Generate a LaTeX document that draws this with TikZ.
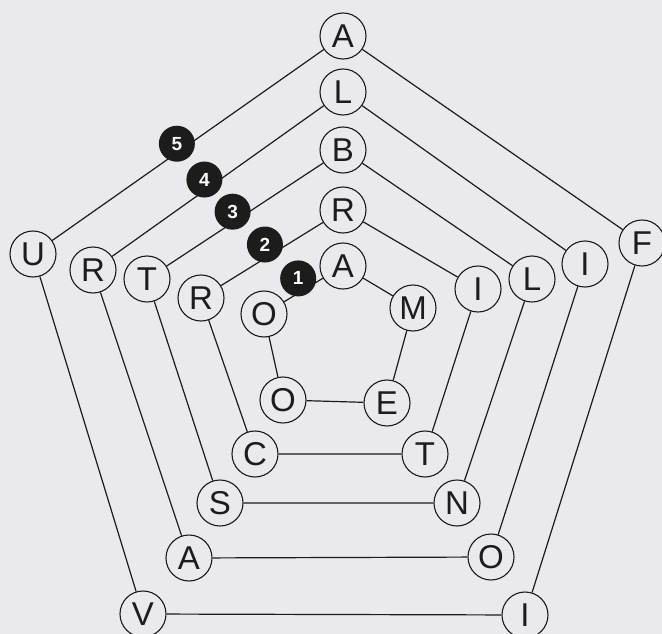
\documentclass[tikz,border=0pt]{standalone}
\usepackage{fontspec}
\setmainfont{Liberation Sans}
\definecolor{bg}{RGB}{233,233,238}
\definecolor{ink}{RGB}{28,28,28}
\tikzset{
  letter/.style={circle, draw=ink, line width=1.1pt, minimum size=46pt, inner sep=0pt,
    fill=bg, text=ink, font=\fontsize{33}{33}\selectfont},
  badge/.style={circle, fill=ink, minimum size=36pt, inner sep=0pt, xshift=-3pt, yshift=5pt,
    text=white, font=\fontsize{19}{19}\selectfont\bfseries},
  ring/.style={draw=ink, line width=1.2pt}
}
\begin{document}
\begin{tikzpicture}[x=1pt, y=-1pt]
  \fill[bg] (0,0) rectangle (662,634);
  \useasboundingbox (0,0) rectangle (662,634);
  % ring 5
  \node[letter] (top5) at (343,36) {A};
  \node[letter] (rt5) at (642,243) {F};
  \node[letter] (rb5) at (525,615) {I};
  \node[letter] (lb5) at (143,614) {V};
  \node[letter] (lt5) at (33,254) {U};
  % ring 4
  \node[letter] (top4) at (343,92) {L};
  \node[letter] (rt4) at (585,264) {I};
  \node[letter] (rb4) at (491,557) {O};
  \node[letter] (lb4) at (189,558) {A};
  \node[letter] (lt4) at (93,270) {R};
  % ring 3
  \node[letter] (top3) at (343,150) {B};
  \node[letter] (rt3) at (532,279) {L};
  \node[letter] (rb3) at (457,503) {N};
  \node[letter] (lb3) at (220,503) {S};
  \node[letter] (lt3) at (147,279) {T};
  % ring 2
  \node[letter] (top2) at (343,210) {R};
  \node[letter] (rt2) at (478,289) {I};
  \node[letter] (rb2) at (425,454) {T};
  \node[letter] (lb2) at (255,454) {C};
  \node[letter] (lt2) at (201,298) {R};
  % ring 1
  \node[letter] (top1) at (343,266) {A};
  \node[letter] (rt1) at (413,308) {M};
  \node[letter] (rb1) at (387,403) {E};
  \node[letter] (lb1) at (283,400) {O};
  \node[letter] (lt1) at (264,314) {O};
  % sides
  \foreach \r in {1,...,5}
    \draw[ring] (top\r) -- (rt\r) -- (rb\r) -- (lb\r) -- (lt\r) -- (top\r);
  % numbers on the upper left sides
  \path (top5) -- (lt5) node[badge, pos=0.53, yshift=2pt] (num5) {5};
  \path (top4) -- (lt4) node[badge, pos=0.55, yshift=4pt] (num4) {4};
  \path (top3) -- (lt3) node[badge, pos=0.56, yshift=4pt] (num3) {3};
  \path (top2) -- (lt2) node[badge, pos=0.54, yshift=7pt] (num2) {2};
  \path (top1) -- (lt1) node[badge, pos=0.56, yshift=8pt] (num1) {1};
\end{tikzpicture}
\end{document}
